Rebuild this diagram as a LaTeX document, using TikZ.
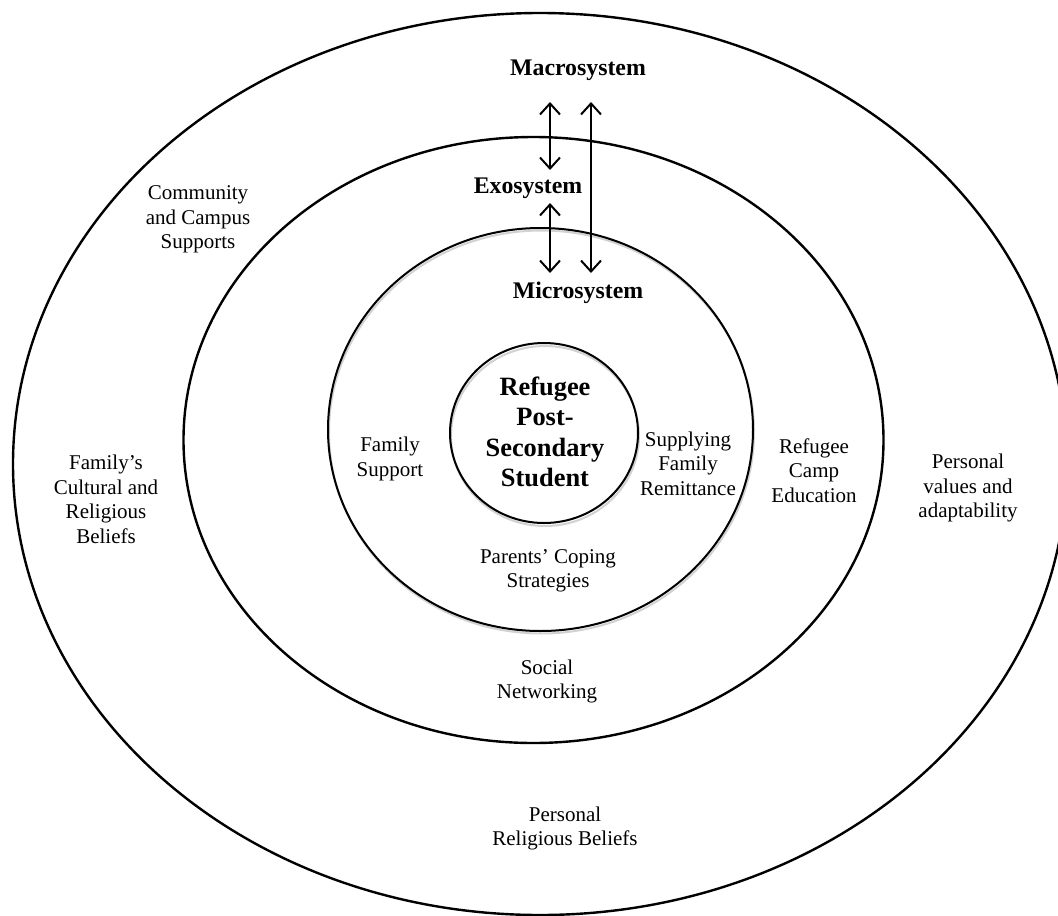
\documentclass[tikz,border=0pt]{standalone}
\usepackage{fontspec}
\setmainfont{Liberation Serif}
\usetikzlibrary{arrows.meta}
\tikzset{
  ring/.style={line width=2.4pt},
  shade/.style={line width=2pt, gray!35},
  arr/.style={line width=2pt, {Straight Barb[length=11pt,width=20pt]}-{Straight Barb[length=11pt,width=20pt]}},
  lbl/.style={align=center, inner sep=0pt, font=\fontsize{21}{24.5}\selectfont},
  sys/.style={align=center, inner sep=0pt, font=\fontsize{23.8}{28}\selectfont\bfseries},
  core/.style={align=center, inner sep=0pt, font=\fontsize{26.4}{30.5}\selectfont\bfseries},
}
\begin{document}
\begin{tikzpicture}[x=1pt,y=-1pt]
\useasboundingbox (0,0) rectangle (1058,916);
% rings
\draw[ring] (540,464) ellipse [x radius=527pt, y radius=451pt];
\draw[ring] (533.5,440) ellipse [x radius=350pt, y radius=303pt];
\draw[shade] (541.5,432) ellipse [x radius=212.5pt, y radius=201.5pt];
\draw[line width=2pt] (540.5,429.5) ellipse [x radius=212.5pt, y radius=201.5pt];
\draw[shade] (545,436) ellipse [x radius=94pt, y radius=90pt];
\draw[line width=2pt] (544,433) ellipse [x radius=94pt, y radius=90pt];
% system labels
\node[sys] (macro) at (578,70) {Macrosystem};
\node[sys] (exo) at (528,188) {Exosystem};
\node[sys] (micro) at (578,293) {Microsystem};
\node[core] (student) at (545,432) {Refugee\\Post-\\Secondary\\Student};
% arrows
\coordinate (a1t) at (550,102);
\coordinate (a1b) at (550,170);
\coordinate (a2t) at (550,203);
\coordinate (a2b) at (550,273);
\coordinate (a3t) at (591,102);
\coordinate (a3b) at (591,273);
\draw[arr] (a1t) -- (a1b);
\draw[arr] (a2t) -- (a2b);
\draw[arr] (a3t) -- (a3b);
% microsystem labels
\node[lbl] (famsup) at (390,459) {Family\\Support};
\node[lbl] (remit) at (688,463.5) {Supplying\\Family\\Remittance};
\node[lbl] (coping) at (548,571) {Parents’ Coping\\Strategies};
% exosystem labels
\node[lbl] (camp) at (814,470.5) {Refugee\\Camp\\Education};
\node[lbl] (social) at (547,681.5) {Social\\Networking};
% macrosystem labels
\node[lbl] (community) at (198,219.5) {Community\\and Campus\\Supports};
\node[lbl] (cultural) at (106,499.5) {Family’s\\Cultural and\\Religious\\Beliefs};
\node[lbl] (values) at (968,488) {Personal\\values and\\adaptability};
\node[lbl] (relig) at (565,828.5) {Personal\\Religious Beliefs};
\end{tikzpicture}
\end{document}
